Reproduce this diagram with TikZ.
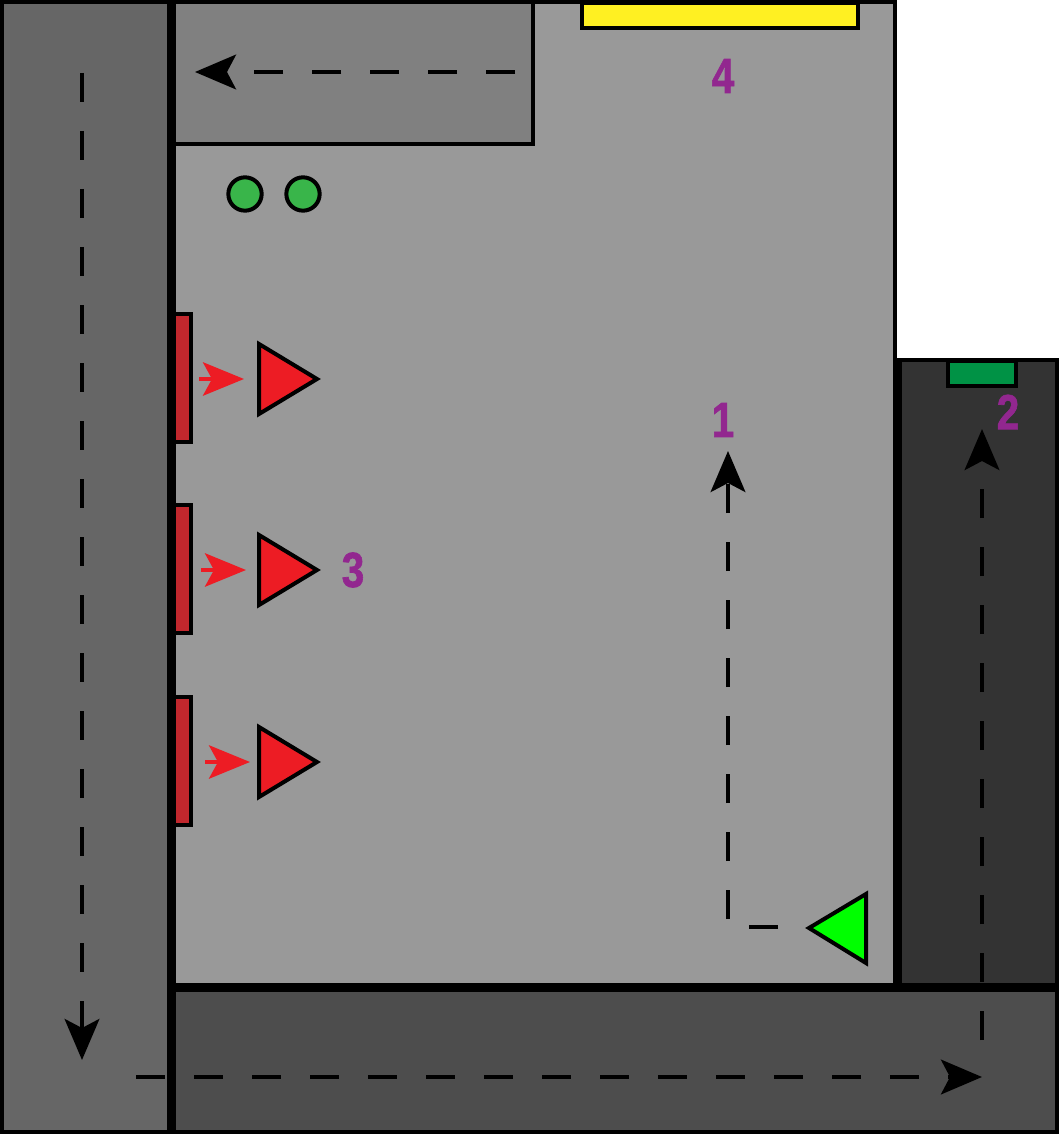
\documentclass[tikz,border=0pt]{standalone}
\usepackage{fontspec}
\setsansfont{Liberation Sans}
\newfontfamily\tagfont{Liberation Sans}[BoldFeatures={FakeBold=1.5}]
\usetikzlibrary{arrows.meta}

\definecolor{roadleft}{HTML}{666666}
\definecolor{roadbottom}{HTML}{4D4D4D}
\definecolor{roadright}{HTML}{333333}
\definecolor{hallgray}{HTML}{999999}
\definecolor{roomgray}{HTML}{808080}
\definecolor{doorred}{HTML}{C1272D}
\definecolor{unitred}{HTML}{ED1C24}
\definecolor{dotgreen}{HTML}{39B54A}
\definecolor{gategreen}{HTML}{009245}
\definecolor{unitgreen}{HTML}{00FF00}
\definecolor{bayyellow}{HTML}{FFF022}
\definecolor{tagpurple}{HTML}{92278F}

\begin{document}
\begin{tikzpicture}[x=0.75pt, y=-0.75pt,
    zone/.style={draw=black, line width=3pt},
    route/.style={line width=3pt, dash pattern=on 21.75pt off 21.75pt,
      -{Stealth[length=30.75pt, width=26pt, inset=6.75pt]}},
    push/.style={draw=unitred, line width=3pt,
      -{Stealth[length=30.75pt, width=25pt, inset=6.75pt]}},
    tag/.style={text=tagpurple, font=\tagfont\bfseries\fontsize{37}{37}\selectfont,
      xscale=0.82, inner sep=0pt}]
  \useasboundingbox (0,0) rectangle (1060,1134);
  % Floor areas.
  \fill[white] (0,0) rectangle (1060,1134);
  \filldraw[zone, fill=hallgray] (172,2) rectangle (895,987);
  \filldraw[zone, fill=roomgray] (172,2) rectangle (533,144);
  \filldraw[zone, fill=roadright] (897,360) rectangle (1057,987);
  \draw[line width=5.25pt] (898,358) -- (898,987);
  \filldraw[zone, fill=roadbottom] (172,987) rectangle (1057,1132);
  \filldraw[zone, fill=roadleft] (2,2) rectangle (171,1132);
  \draw[line width=6.75pt] (171,0) -- (171,1134);
  \draw[line width=6.75pt] (171,987) -- (1059,987);
  % Docks and markers.
  \filldraw[zone, fill=bayyellow] (582,3) rectangle (858,28);
  \filldraw[zone, fill=gategreen] (948,361) rectangle (1016,386);
  \filldraw[zone, fill=dotgreen] (245,194) circle (12.5pt);
  \filldraw[zone, fill=dotgreen] (303,194) circle (12.5pt);
  % Red doors, pushers and units.
  \foreach \y/\ax in {379/199, 570/201, 762/205} {
    \filldraw[zone, fill=doorred] (174,\y-65) rectangle (191,\y+63);
    \draw[push] (\ax,\y) -- (\ax+45,\y);
    \filldraw[zone, fill=unitred] (259,\y-35) -- (317,\y) -- (259,\y+35) -- cycle;
  }
  % Green unit.
  \filldraw[zone, fill=unitgreen] (866,894) -- (809,928) -- (866,963) -- cycle;
  % Route ends.
  \coordinate (topstart) at (515,72);
  \coordinate (topend) at (195,72);
  \coordinate (leftstart) at (82,73);
  \coordinate (leftend) at (82,1060);
  \coordinate (botstart) at (136,1077);
  \coordinate (botend) at (982,1077);
  \coordinate (rightstart) at (982,1040);
  \coordinate (rightend) at (982,429);
  \coordinate (unitstart) at (778,927);
  \coordinate (unitend) at (728,451);
  \draw[route] (topstart) -- (topend);
  \draw[route] (leftstart) -- (leftend);
  \draw[route] (botstart) -- (botend);
  \draw[route] (rightstart) -- (rightend);
  \draw[route, dash phase=0pt] (unitstart) -| (unitend);
  % Labels.
  \node[tag] (tag1) at (723,420) {1};
  \node[tag] (tag2) at (1008,412) {2};
  \node[tag] (tag3) at (353,570) {3};
  \node[tag] (tag4) at (723,76) {4};
\end{tikzpicture}
\end{document}
